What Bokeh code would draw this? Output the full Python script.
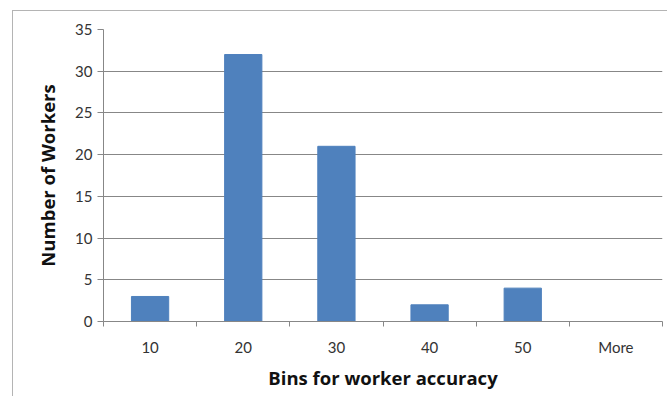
from bokeh.plotting import figure
from bokeh.models import Range1d, FixedTicker
from bokeh.embed import file_html
from bokeh.resources import INLINE

categories = ["10", "20", "30", "40", "50", "More"]
counts = [3, 32, 21, 2, 4, 0]
y_ticks = [0, 5, 10, 15, 20, 25, 30, 35]

n = len(categories)
centers = [i + 0.5 for i in range(n)]
bounds = list(range(n + 1))

p = figure(width=655, height=386, output_backend="svg", toolbar_location=None,
           x_range=Range1d(0, n), y_range=Range1d(0, 35),
           min_border_left=90, min_border_right=6, min_border_top=18, min_border_bottom=76)
p.margin = (10, 0, 0, 12)
p.styles = {"border-top": "1px solid #b4b4b4", "border-left": "1px solid #b4b4b4"}

p.vbar(x=centers, top=counts, width=0.4, color="#4f81bd")

p.outline_line_color = None
p.xgrid.grid_line_color = None
p.ygrid.grid_line_color = "#878787"
p.ygrid.grid_line_width = 1

p.xaxis.ticker = FixedTicker(ticks=centers, minor_ticks=bounds)
p.xaxis.major_label_overrides = {c: lab for c, lab in zip(centers, categories)}
p.xaxis.major_tick_line_color = None
p.xaxis.major_tick_out = 0
p.xaxis.major_tick_in = 0
p.xaxis.minor_tick_line_color = "#878787"
p.xaxis.minor_tick_out = 5
p.xaxis.minor_tick_in = 0
p.xaxis.major_label_standoff = 11
p.xaxis.axis_label = "Bins for worker accuracy"
p.xaxis.axis_label_standoff = 6

p.yaxis.ticker = FixedTicker(ticks=y_ticks)
p.yaxis.minor_tick_line_color = None
p.yaxis.major_tick_out = 6
p.yaxis.major_tick_in = 0
p.yaxis.major_tick_line_color = "#878787"
p.yaxis.major_label_standoff = 5
p.yaxis.axis_label = "Number of Workers"
p.yaxis.axis_label_standoff = 12

for ax in (p.xaxis, p.yaxis):
    ax.axis_line_color = "#878787"
    ax.major_label_text_font = "Lato"
    ax.major_label_text_font_size = "15px"
    ax.major_label_text_color = "#333333"
    ax.axis_label_text_font = "Open Sans"
    ax.axis_label_text_font_size = "18.5px"
    ax.axis_label_text_font_style = "bold"
    ax.axis_label_text_color = "#111111"

open("out.html", "w").write(file_html(p, INLINE))
